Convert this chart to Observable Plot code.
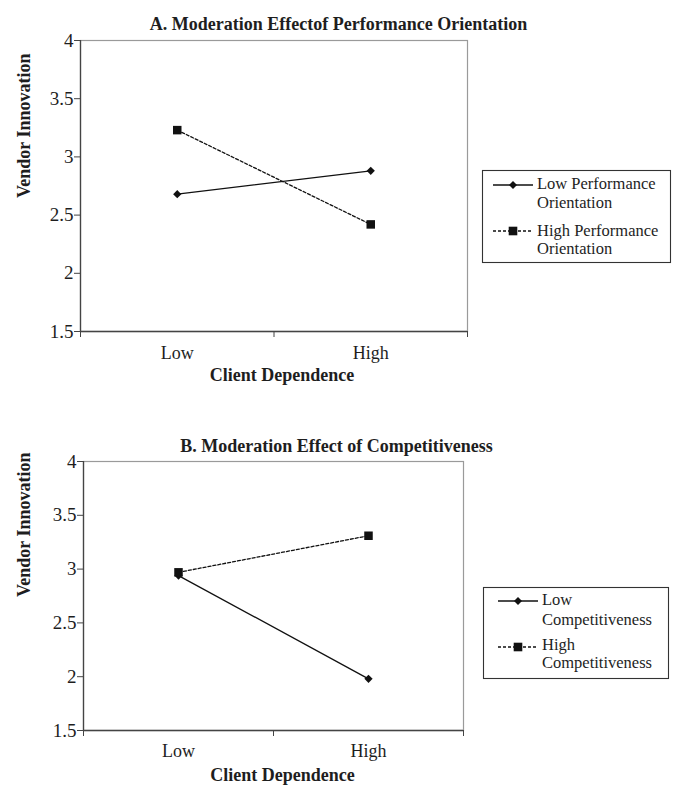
<!DOCTYPE html>
<html>
<head>
<meta charset="utf-8">
<script src="https://cdn.jsdelivr.net/npm/d3@7"></script>
<script src="https://cdn.jsdelivr.net/npm/@observablehq/plot@0.6"></script>
<style>
  html, body { margin: 0; padding: 0; background: #fff; }
  #root { position: relative; width: 676px; height: 791px; overflow: hidden; background: #fff; }
  #root > svg, #root > div { position: absolute; left: 0; }
</style>
</head>
<body>
<div id="root"></div>
<script>
// ---- data ----
const categories = ["Low", "High"];
const yTicks = [1.5, 2, 2.5, 3, 3.5, 4];

const titleA = "A. Moderation Effectof Performance Orientation";
const titleB = "B. Moderation Effect of Competitiveness";
const xTitle = "Client Dependence";
const yTitle = "Vendor Innovation";

const perfLowValues = [2.68, 2.88];
const perfHighValues = [3.23, 2.42];
const compLowValues = [2.94, 1.98];
const compHighValues = [2.97, 3.31];

const legendA = [["Low Performance", "Orientation"], ["High Performance", "Orientation"]];
const legendB = [["Low", "Competitiveness"], ["High", "Competitiveness"]];

// ---- helpers ----
const ink = "#1e1e1e";
const font = "'Liberation Serif', 'Times New Roman', serif";

function rows(values) {
  return categories.map((c, i) => ({cat: c, xi: i + 0.5, value: values[i]}));
}

function panel({lowVals, highVals, title, top, height, mt, mb, ml, mr, tickPad, titleDx, titleDy, xtDx, xtDy, ytDx, ytDy}) {
  const low = rows(lowVals), high = rows(highVals);
  const svg = Plot.plot({
    width: 676,
    height,
    marginTop: mt, marginBottom: mb, marginLeft: ml, marginRight: mr,
    style: {fontFamily: font, fontSize: "18px", color: ink, background: "transparent", overflow: "visible"},
    x: {type: "linear", domain: [0, 2], axis: null},
    y: {type: "linear", domain: [1.5, 4], axis: null},
    marks: [
      Plot.frame({stroke: "#9a9a9a", strokeWidth: 1.2}),
      Plot.ruleX([0], {stroke: "#444", strokeWidth: 1.3}),
      Plot.ruleY([1.5], {stroke: "#444", strokeWidth: 1.3}),
      Plot.axisY({ticks: yTicks, label: null, tickSize: 6, tickPadding: 1, tickFormat: d => String(d), stroke: "#444", fill: ink, fontSize: 19}),
      Plot.axisX({ticks: [0, 1, 2], label: null, tickSize: 6, tickFormat: () => "", stroke: "#444"}),
      Plot.axisX({ticks: categories.map((c, i) => i + 0.5), label: null, tickSize: 0, tickPadding: tickPad, tickFormat: d => categories[Math.floor(d)], fill: ink, fontSize: 18}),
      Plot.line(low, {x: "xi", y: "value", stroke: "#111", strokeWidth: 1.3}),
      Plot.line(high, {x: "xi", y: "value", stroke: "#111", strokeWidth: 1.3, strokeDasharray: "3,2"}),
      Plot.dot(low, {x: "xi", y: "value", symbol: "diamond2", r: 3.7, fill: "#111", stroke: "none"}),
      Plot.dot(high, {x: "xi", y: "value", symbol: "square", r: 4.8, fill: "#111", stroke: "none"}),
      Plot.text([title], {frameAnchor: "top", dx: titleDx, dy: titleDy, fontWeight: "bold", fontSize: 18, fill: ink}),
      Plot.text([xTitle], {frameAnchor: "bottom", dx: xtDx, dy: xtDy, fontWeight: "bold", fontSize: 18, fill: ink}),
      Plot.text([yTitle], {frameAnchor: "left", rotate: -90, dx: ytDx, dy: ytDy, fontWeight: "bold", fontSize: 18, fill: ink})
    ]
  });
  svg.style.top = top + "px";
  return svg;
}

const root = document.getElementById("root");

root.appendChild(panel({
  lowVals: perfLowValues, highVals: perfHighValues, title: titleA,
  top: 0, height: 395, mt: 40, mb: 64, ml: 80, mr: 209, tickPad: 15,
  titleDx: 64.5, titleDy: -22.8, xtDx: 8, xtDy: 49.2, ytDx: -56, ytDy: 12
}));

root.appendChild(panel({
  lowVals: compLowValues, highVals: compHighValues, title: titleB,
  top: 395, height: 396, mt: 66, mb: 61, ml: 83, mr: 213, tickPad: 14,
  titleDx: 63, titleDy: -21.8, xtDx: 9, xtDy: 50.9, ytDx: -59, ytDy: 1
}));

// ---- legends ----
const leg = d3.create("svg")
  .attr("width", 676).attr("height", 791)
  .style("top", "0px")
  .style("font-family", font)
  .style("font-size", "16.5px");

function legend(box, sym, textX, labels, symY, baselines) {
  leg.append("rect")
    .attr("x", box[0] + 0.5).attr("y", box[1] + 0.5)
    .attr("width", box[2]).attr("height", box[3])
    .attr("fill", "white").attr("stroke", "#333").attr("stroke-width", 1.1);
  labels.forEach((lines, i) => {
    const y = symY[i];
    leg.append("line")
      .attr("x1", sym[0]).attr("x2", sym[1]).attr("y1", y).attr("y2", y)
      .attr("stroke", "#111").attr("stroke-width", 1.3)
      .attr("stroke-dasharray", i === 0 ? null : "3,2");
    const cx = (sym[0] + sym[1]) / 2;
    if (i === 0) {
      leg.append("path").attr("d", `M${cx},${y - 4}L${cx + 4},${y}L${cx},${y + 4}L${cx - 4},${y}Z`).attr("fill", "#111");
    } else {
      leg.append("rect").attr("x", cx - 4.3).attr("y", y - 4.3).attr("width", 8.6).attr("height", 8.6).attr("fill", "#111");
    }
    lines.forEach((t, j) => {
      leg.append("text").attr("x", textX).attr("y", baselines[i][j]).attr("fill", ink).text(t);
    });
  });
}

legend([482, 170, 188, 92], [493, 533], 537, legendA, [185, 231], [[189, 208], [236, 254]]);
legend([483, 587, 185, 91], [498, 538], 542, legendB, [601, 647], [[605, 625], [650, 668]]);

root.appendChild(leg.node());
</script>
</body>
</html>
